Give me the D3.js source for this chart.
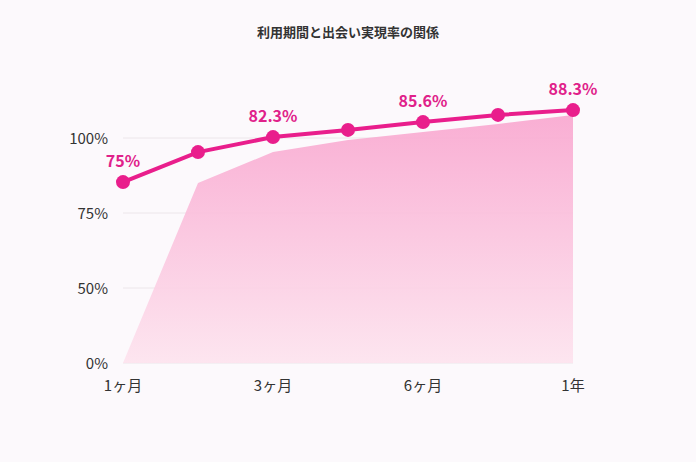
<!DOCTYPE html>
<html><head><meta charset="utf-8">
<script src="https://cdn.jsdelivr.net/npm/d3@7"></script>
<style>body{margin:0;background:#fcf9fc;font-family:"Noto Sans CJK JP","Noto Sans",sans-serif}</style>
</head><body><svg id="c" width="696" height="462"></svg>
<script>
const steps = [0,1,2,3,4,5,6];
const xTickLabels = {0:"1ヶ月",2:"3ヶ月",4:"6ヶ月",6:"1年"};
const yTicks = [0,50,75,100];
const areaValues = [0,85,95.3,99.3,102,104.7,107.7];
const lineValues = [85.3,95.3,100.3,102.7,105.3,107.7,109.3];
const pointLabels = ["75%","","82.3%","","85.6%","","88.3%"];

const svg = d3.select("#c");
const x = d3.scaleLinear().domain([0,6]).range([123,573]);
const y = d3.scaleLinear().domain([0,50,100]).range([363,288,138]);

svg.append("text").attr("x",348).attr("y",37).attr("text-anchor","middle")
  .attr("font-size",13).attr("font-weight","bold").attr("fill","#333").text("利用期間と出会い実現率の関係");

const defs = svg.append("defs");
const g = defs.append("linearGradient").attr("id","ga").attr("x1",0).attr("y1",0).attr("x2",0).attr("y2",1);
g.append("stop").attr("offset","0%").attr("stop-color","#f9a6cf");
g.append("stop").attr("offset","100%").attr("stop-color","#fde3ee");

svg.selectAll(".grid").data(yTicks).join("line")
  .attr("x1",123).attr("x2",573).attr("y1",d=>y(d)).attr("y2",d=>y(d))
  .attr("stroke","#ece6ea").attr("stroke-width",1);

svg.append("path").datum(steps)
  .attr("d",d3.area().x(i=>x(i)).y0(y(0)).y1(i=>y(areaValues[i])))
  .attr("fill","url(#ga)").attr("opacity",0.9);

svg.selectAll(".yl").data(yTicks).join("text")
  .attr("x",108).attr("y",d=>y(d)+6).attr("text-anchor","end")
  .attr("font-size",15).attr("fill","#333").text(d=>d+"%");

svg.selectAll(".xl").data(Object.keys(xTickLabels)).join("text")
  .attr("x",d=>x(+d)).attr("y",391).attr("text-anchor","middle")
  .attr("font-size",15).attr("fill","#333").text(d=>xTickLabels[d]);

svg.append("path").datum(steps)
  .attr("d",d3.line().x(i=>x(i)).y(i=>y(lineValues[i])))
  .attr("fill","none").attr("stroke","#e91e8c").attr("stroke-width",4);

svg.selectAll(".pt").data(steps).join("circle")
  .attr("cx",i=>x(i)).attr("cy",i=>y(lineValues[i])).attr("r",7).attr("fill","#e91e8c");

svg.selectAll(".pl").data(steps.filter(i=>pointLabels[i])).join("text")
  .attr("x",i=>x(i)).attr("y",i=>y(lineValues[i])-15).attr("text-anchor","middle")
  .attr("font-size",16).attr("font-weight","bold").attr("fill","#e0218a").text(i=>pointLabels[i]);
</script></body></html>
